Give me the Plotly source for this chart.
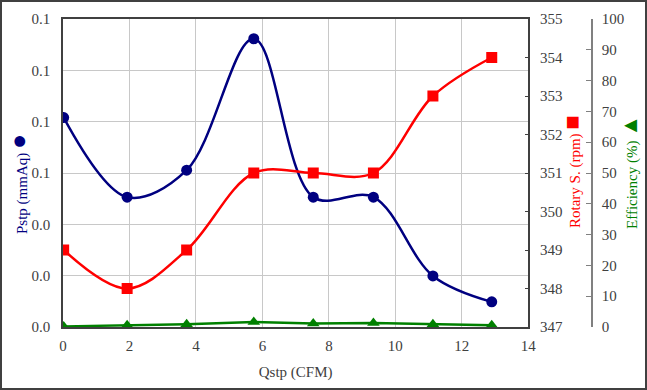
import plotly.graph_objects as go

# Data
qstp = [0.02, 1.93, 3.72, 5.74, 7.53, 9.34, 11.13, 12.90]
pstp = [0.0816, 0.0506, 0.0611, 0.1123, 0.0506, 0.0506, 0.0199, 0.0098]
rotary = [349, 348, 349, 351, 351, 351, 353, 354]
efficiency = [0.2, 0.6, 0.9, 1.6, 1.1, 1.3, 0.9, 0.6]

NAVY = "#000080"
RED = "#FF0000"
GREEN = "#008000"
TXT = "#404040"
FONT = "Liberation Serif"

W, H = 647, 390
ML, MR, MT, MB = 63, 40, 19, 63
area_w = W - ML - MR
plot_h = H - MT - MB
xdom_end = (528.3 - ML) / area_w
eff_pos = (592 - ML) / area_w


def px_x(p):
    return (p - ML) / area_w


def px_y(p):
    return (H - MB - p) / plot_h


fig = go.Figure()
fig.add_trace(go.Scatter(x=qstp, y=pstp, mode="lines+markers", name="Pstp",
                         line=dict(color=NAVY, width=2.5, shape="spline", smoothing=1),
                         marker=dict(symbol="circle", size=11, color=NAVY),
                         yaxis="y"))
fig.add_trace(go.Scatter(x=qstp, y=rotary, mode="lines+markers", name="Rotary S.",
                         line=dict(color=RED, width=2.5, shape="spline", smoothing=1),
                         marker=dict(symbol="square", size=11, color=RED),
                         yaxis="y2"))
fig.add_trace(go.Scatter(x=qstp, y=efficiency, mode="lines+markers", name="Efficiency",
                         line=dict(color=GREEN, width=2.5),
                         marker=dict(symbol="triangle-up", size=11, color=GREEN),
                         yaxis="y3"))

tickfont = dict(family=FONT, size=15, color=TXT)

fig.update_layout(
    width=W, height=H,
    margin=dict(l=ML, r=MR, t=MT, b=MB, autoexpand=False),
    paper_bgcolor="white", plot_bgcolor="white",
    showlegend=False,
    font=dict(family=FONT, size=15, color=TXT),
    xaxis=dict(domain=[0, xdom_end], range=[0, 14], dtick=2, tick0=0, automargin=False,
               showgrid=True, gridcolor="#C8C8C8", gridwidth=1,
               showline=True, linecolor="#404040", linewidth=1.5, mirror=True,
               ticks="", zeroline=False, tickfont=tickfont, ticklabelstandoff=4,
               title=dict(text="Qstp (CFM)", font=dict(family=FONT, size=15, color=TXT), standoff=14)),
    yaxis=dict(range=[0, 0.12], dtick=0.02, tick0=0, tickformat=".1f", automargin=False,
               showgrid=True, gridcolor="#C8C8C8", gridwidth=1,
               showline=True, linecolor="#404040", linewidth=1.5,
               ticks="", zeroline=False, tickfont=tickfont, ticklabelstandoff=8),
    yaxis2=dict(range=[347, 355], dtick=1, tick0=347, overlaying="y", side="right", anchor="x",
                automargin=False,
                showgrid=False, showline=True, linecolor="#404040", linewidth=1.5,
                ticks="inside", ticklen=4, tickcolor="#404040", zeroline=False,
                tickfont=tickfont, ticklabelstandoff=7),
    yaxis3=dict(range=[0, 100], dtick=10, tick0=0, overlaying="y", side="right",
                anchor="free", position=eff_pos, automargin=False,
                showgrid=False, showline=True, linecolor="#808080", linewidth=1.5,
                ticks="inside", ticklen=5, tickcolor="#808080", zeroline=False,
                tickfont=tickfont, ticklabelstandoff=6),
)

# Axis titles (rotated, with series symbols)
titles = [
    ("Pstp (mmAq) <span style='font-size:25px'>●</span>", NAVY, 18, 184),
    ("Rotary S. (rpm) <span style='font-size:24px'>■</span>", RED, 572, 172),
    ("Efficiency (%) <span style='font-size:22px'>▲</span>", GREEN, 629, 172),
]
for text, color, px, py in titles:
    fig.add_annotation(text=text, xref="paper", yref="paper", x=px_x(px), y=px_y(py),
                       xanchor="center", yanchor="middle", textangle=-90, showarrow=False,
                       font=dict(family=FONT, size=15, color=color))

# Outer chart-area border
fig.add_shape(type="rect", xref="paper", yref="paper",
              x0=px_x(1), x1=px_x(W - 1), y0=px_y(H - 1), y1=px_y(1),
              line=dict(color="#404040", width=2), fillcolor="rgba(0,0,0,0)", layer="above")

fig.write_html("out.html", config={"displayModeBar": False},
               post_script="document.body.style.margin='0';document.body.style.padding='0';")
